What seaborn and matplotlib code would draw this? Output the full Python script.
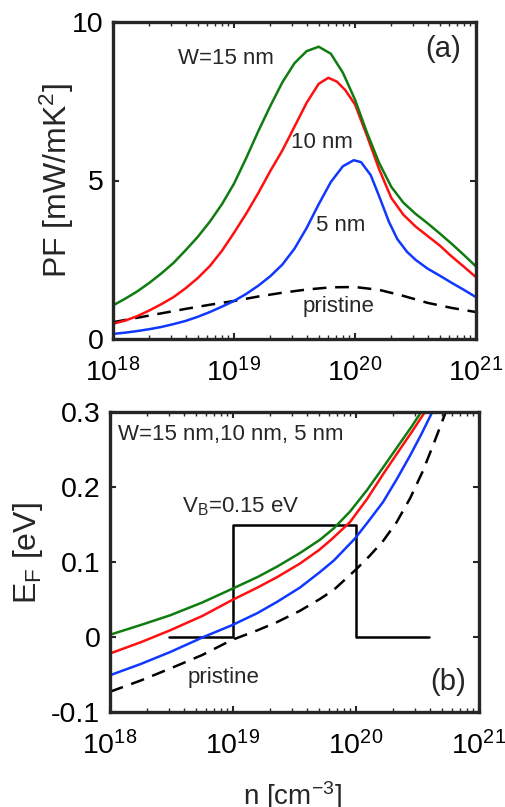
import numpy as np
import matplotlib
matplotlib.use("Agg")
import matplotlib.pyplot as plt
import seaborn as sns

# -----------------------------------------
# Data, log10(n) in cm^-3
# -----------------------------------------
# (a) power factor PF [mW/mK^2]
pf_logn_15 = [18.0, 18.1, 18.2, 18.3, 18.4, 18.5, 18.6, 18.7, 18.8, 18.9, 19.0, 19.1, 19.2, 19.3,
              19.4, 19.5, 19.6, 19.7, 19.8, 19.9, 20.0, 20.1, 20.2, 20.3, 20.4, 20.5, 20.6, 20.7,
              20.8, 20.9, 21.0]
pf_15 = [1.06, 1.27, 1.50, 1.77, 2.07, 2.40, 2.80, 3.22, 3.70, 4.25, 4.9, 5.7, 6.55, 7.35,
         8.1, 8.7, 9.08, 9.22, 9.0, 8.4, 7.55, 6.5, 5.55, 4.8, 4.3, 3.95, 3.65, 3.33,
         3.0, 2.65, 2.29]

pf_logn_10 = [18.0, 18.1, 18.2, 18.3, 18.4, 18.5, 18.6, 18.7, 18.8, 18.9, 19.0, 19.1, 19.2, 19.3,
              19.4, 19.5, 19.6, 19.7, 19.78, 19.85, 19.92, 20.0, 20.1, 20.2, 20.3, 20.4, 20.5,
              20.6, 20.7, 20.8, 20.9, 21.0]
pf_10 = [0.48, 0.58, 0.72, 0.90, 1.10, 1.32, 1.60, 1.92, 2.3, 2.78, 3.35, 3.95, 4.6, 5.3,
         5.95, 6.7, 7.45, 8.05, 8.24, 8.12, 7.85, 7.4, 6.4, 5.35, 4.45, 3.92, 3.55,
         3.25, 2.95, 2.6, 2.28, 1.95]

pf_logn_5 = [18.0, 18.1, 18.2, 18.3, 18.4, 18.5, 18.6, 18.7, 18.8, 18.9, 19.0, 19.1, 19.2, 19.3,
             19.4, 19.5, 19.6, 19.7, 19.8, 19.9, 19.99, 20.05, 20.13, 20.2, 20.28, 20.35, 20.43,
             20.5, 20.6, 20.7, 20.8, 20.9, 21.0]
pf_5 = [0.16, 0.20, 0.25, 0.31, 0.38, 0.47, 0.57, 0.70, 0.85, 1.02, 1.2, 1.42, 1.68, 1.98,
        2.35, 2.85, 3.5, 4.25, 4.95, 5.45, 5.64, 5.58, 5.17, 4.5, 3.7, 3.15, 2.75,
        2.5, 2.22, 2.0, 1.77, 1.55, 1.32]

pf_logn_pr = [18.0, 18.2, 18.4, 18.6, 18.8, 19.0, 19.2, 19.4, 19.6, 19.8, 20.0, 20.2, 20.4,
              20.6, 20.8, 21.0]
pf_pr = [0.53, 0.67, 0.81, 0.95, 1.08, 1.2, 1.34, 1.46, 1.56, 1.63, 1.64, 1.55, 1.36,
         1.14, 0.98, 0.85]

# (b) Fermi level E_F [eV]
ef_logn_15 = [18.0, 18.25, 18.49, 18.75, 18.99, 19.2, 19.36, 19.545, 19.71, 19.82, 19.95,
              20.09, 20.22, 20.36, 20.45, 20.53]
ef_15 = [0.003, 0.016, 0.029, 0.046, 0.064, 0.080, 0.094, 0.112, 0.130, 0.145, 0.167,
         0.196, 0.226, 0.259, 0.28, 0.30]

ef_logn_10 = [18.0, 18.25, 18.49, 18.75, 18.99, 19.2, 19.36, 19.545, 19.7, 19.8, 19.95,
              20.09, 20.22, 20.36, 20.46, 20.56]
ef_10 = [-0.022, -0.007, 0.009, 0.028, 0.049, 0.066, 0.080, 0.098, 0.116, 0.130, 0.153,
         0.184, 0.217, 0.251, 0.275, 0.30]

ef_logn_5 = [18.0, 18.25, 18.49, 18.76, 18.99, 19.2, 19.36, 19.545, 19.71, 19.82, 19.99,
             20.1, 20.22, 20.33, 20.44, 20.53, 20.62]
ef_5 = [-0.051, -0.036, -0.020, 0.0, 0.0156, 0.032, 0.047, 0.066, 0.087, 0.102, 0.131,
        0.154, 0.18, 0.21, 0.242, 0.27, 0.30]

ef_logn_pr = [18.0, 18.25, 18.49, 18.75, 18.99, 19.2, 19.36, 19.545, 19.71, 19.82, 20.0,
              20.11, 20.22, 20.33, 20.44, 20.54, 20.63, 20.73]
ef_pr = [-0.073, -0.058, -0.042, -0.024, -0.004, 0.009, 0.020, 0.035, 0.051, 0.063, 0.090,
         0.108, 0.128, 0.153, 0.185, 0.22, 0.257, 0.30]

# barrier profile V_B = 0.15 eV
barrera_logn = [18.48, 19.0, 19.0, 20.0, 20.0, 20.59]
barrera_E = [0.0, 0.0, 0.15, 0.15, 0.0, 0.0]

colores = {"15": "#107c10", "10": "#ff1010", "5": "#1038ff"}

# -----------------------------------------
# Estilo
# -----------------------------------------
sns.set_style("ticks")
plt.rcParams["font.family"] = ["Liberation Sans", "DejaVu Sans"]
plt.rcParams["mathtext.default"] = "regular"
plt.rcParams["axes.linewidth"] = 2.4
plt.rcParams["axes.edgecolor"] = "#262626"

W, H = 506, 807
fig = plt.figure(figsize=(W / 100, H / 100), dpi=100)
ax_a = fig.add_axes([113 / W, 1 - 339 / H, 363 / W, 317 / H])
ax_b = fig.add_axes([110 / W, 1 - 712 / H, 369 / W, 300 / H])

LW = 1.8
DASH = (0, (5.5, 3.5))


def curva(ax, logn, vals, **kw):
    sns.lineplot(x=10 ** np.array(logn), y=vals, ax=ax, estimator=None,
                 sort=False, lw=LW, **kw)


# -----------------------------------------
# (a) PF
# -----------------------------------------
curva(ax_a, pf_logn_pr, pf_pr, color="black", linestyle=DASH)
curva(ax_a, pf_logn_5, pf_5, color=colores["5"])
curva(ax_a, pf_logn_10, pf_10, color=colores["10"])
curva(ax_a, pf_logn_15, pf_15, color=colores["15"])

ax_a.set_ylim(0, 10)
ax_a.set_yticks([0, 5, 10])
ax_a.set_ylabel("PF [mW/mK$^2$]", fontsize=23)
ax_a.yaxis.set_label_coords(-0.103, 0.5)

kw_txt = dict(fontsize=16, ha="center", va="center")
ax_a.text(10 ** 18.93, 8.86, "W=15 nm", **kw_txt)
ax_a.text(10 ** 19.73, 6.21, "10 nm", **kw_txt)
ax_a.text(10 ** 19.88, 3.59, "5 nm", **kw_txt)
ax_a.text(10 ** 19.86, 1.03, "pristine", **kw_txt)
ax_a.text(10 ** 20.73, 9.15, "(a)", fontsize=21, ha="center", va="center")

# -----------------------------------------
# (b) E_F
# -----------------------------------------
curva(ax_b, barrera_logn, barrera_E, color="black")
curva(ax_b, ef_logn_pr, ef_pr, color="black", linestyle=DASH)
curva(ax_b, ef_logn_5, ef_5, color=colores["5"])
curva(ax_b, ef_logn_10, ef_10, color=colores["10"])
curva(ax_b, ef_logn_15, ef_15, color=colores["15"])

ax_b.set_ylim(-0.1, 0.3)
ax_b.set_yticks([-0.1, 0, 0.1, 0.2, 0.3])
ax_b.set_yticklabels(["-0.1", "0", "0.1", "0.2", "0.3"])
ax_b.set_ylabel("E$_F$ [eV]", fontsize=23)
ax_b.yaxis.set_label_coords(-0.175, 0.53)
ax_b.set_xlabel("n [cm$^{-3}$]", fontsize=20)
ax_b.xaxis.set_label_coords(0.493, -0.225)

ax_b.text(10 ** 18.065, 0.27, "W=15 nm,10 nm, 5 nm", fontsize=16, ha="left", va="center")
ax_b.text(10 ** 18.585, 0.166, "V$_B$=0.15 eV", fontsize=16, ha="left", va="baseline")
ax_b.text(10 ** 18.92, -0.054, "pristine", **kw_txt)
ax_b.text(10 ** 20.75, -0.06, "(b)", fontsize=21, ha="center", va="center")

for ax in (ax_a, ax_b):
    ax.set_xscale("log")
    ax.set_xlim(1e18, 1e21)
    ax.set_xticks([1e18, 1e19, 1e20, 1e21])
    ax.tick_params(which="major", direction="in", length=4.5, width=1.5,
                   top=True, right=True, labelsize=20.5, colors="#262626")
    ax.tick_params(which="minor", direction="in", length=3, width=1,
                   top=True, right=True)
    ax.tick_params(axis="x", pad=14)
    ax.tick_params(axis="y", pad=7)
    for t in ax.get_xticklabels() + ax.get_yticklabels():
        t.set_color("black")
    for s in ax.spines.values():
        s.set_visible(True)

fig.savefig("out.png", dpi=100)
